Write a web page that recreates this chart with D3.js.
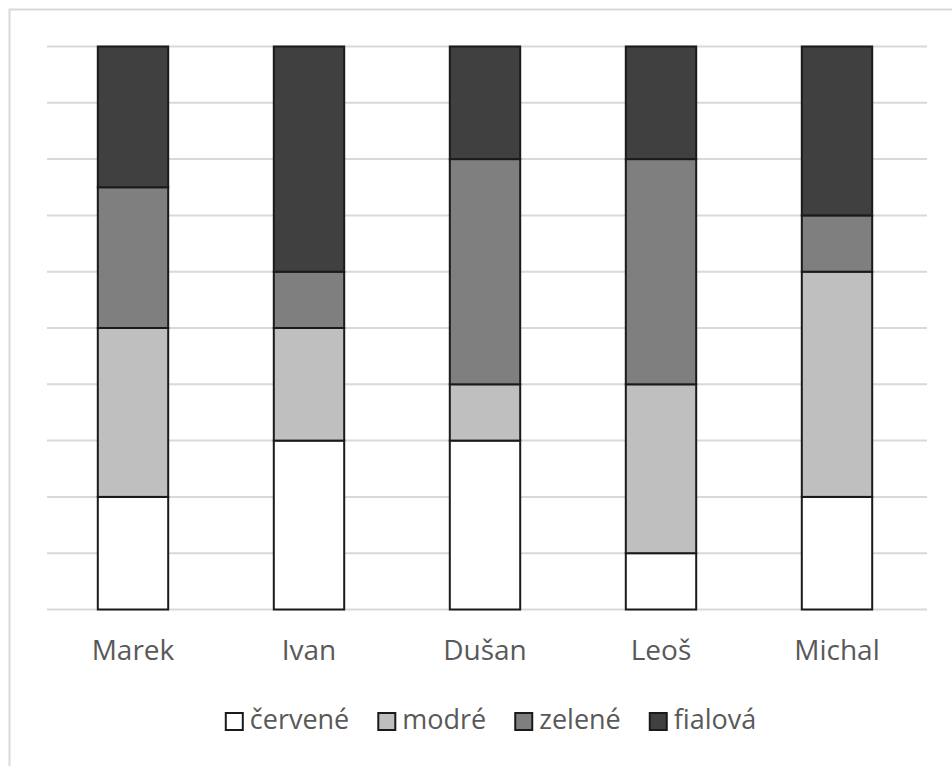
<!DOCTYPE html>
<html><head><meta charset="utf-8">
<script src="https://cdn.jsdelivr.net/npm/d3@7"></script>
<style>body{margin:0;background:#fff;} svg{display:block;}</style>
</head><body>
<svg id="c" width="952" height="766"></svg>
<script>
const categories = ["Marek", "Ivan", "Dušan", "Leoš", "Michal"];
const seriesNames = ["červené", "modré", "zelené", "fialová"];
const cervene = [20, 30, 30, 10, 20];
const modre   = [30, 20, 10, 30, 40];
const zelene  = [25, 10, 40, 40, 10];
const fialova = [25, 40, 20, 20, 30];
const colors = ["#ffffff", "#bfbfbf", "#7f7f7f", "#404040"];
const yTicks = [0,10,20,30,40,50,60,70,80,90,100];

(function(){
const svg = d3.select("#c");
const font = "'Open Sans', sans-serif";

svg.append("rect").attr("x",9.5).attr("y",9.5).attr("width",1200).attr("height",1200)
  .attr("fill","#fff").attr("stroke","#d9d9d9").attr("stroke-width",2);

const pLeft = 47, pRight = 927, pTop = 46.5, pBottom = 609.5;
const x = d3.scaleBand().domain(categories).range([pLeft - 2, pRight - 2]).paddingInner(0.6).paddingOuter(0.3);
const y = d3.scaleLinear().domain([0,100]).range([pBottom, pTop]);

svg.append("g").selectAll("line").data(yTicks).join("line")
  .attr("x1", pLeft).attr("x2", pRight).attr("y1", d=>y(d)).attr("y2", d=>y(d))
  .attr("stroke","#d9d9d9").attr("stroke-width",2);

const rows = categories.map((c,i)=>({cat:c, "červené":cervene[i], "modré":modre[i], "zelené":zelene[i], "fialová":fialova[i]}));
const stack = d3.stack().keys(seriesNames)(rows);

svg.append("g").selectAll("g").data(stack).join("g")
  .attr("fill",(d,i)=>colors[i])
  .selectAll("rect").data(d=>d).join("rect")
  .attr("x", d=>x(d.data.cat)).attr("width", x.bandwidth())
  .attr("y", d=>y(d[1])).attr("height", d=>y(d[0])-y(d[1]))
  .attr("stroke","#1a1a1a").attr("stroke-width",2);

const xAxis = d3.axisBottom(x).tickSize(0).tickPadding(0);
const gx = svg.append("g").attr("transform",`translate(0,${pBottom})`).call(xAxis);
gx.select(".domain").remove();
gx.selectAll("text").attr("font-family",font).attr("font-size",28).attr("fill","#595959")
  .attr("dy",null).attr("y",50);

const lg = svg.append("g");
const items = lg.selectAll("g").data(seriesNames).join("g");
items.append("rect").attr("width",17).attr("height",17).attr("y",-16)
  .attr("fill",(d,i)=>colors[i]).attr("stroke","#1a1a1a").attr("stroke-width",2);
items.append("text").attr("x",24).attr("y",0).text(d=>d)
  .attr("font-family",font).attr("font-size",27).attr("fill","#595959");
let pos = 0;
const widths = [];
items.each(function(){ const w = d3.select(this).select("text").node().getComputedTextLength(); widths.push(24+w); });
const gap = 29;
const total = d3.sum(widths) + gap*(widths.length-1);
items.attr("transform",(d,i)=>{ const t = `translate(${pos},0)`; pos += widths[i]+gap; return t; });
lg.attr("transform",`translate(${491 - total/2},729)`);
})();
</script>
</body></html>
